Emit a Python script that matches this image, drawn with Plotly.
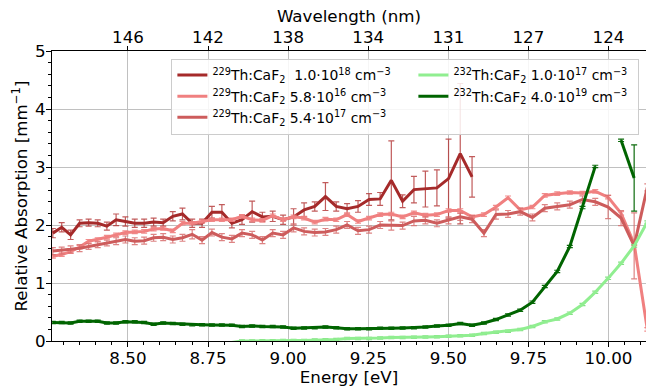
import plotly.graph_objects as go

# Photon energies (eV) of the measurement grid
energy = [8.2656, 8.2933, 8.3211, 8.3491, 8.3773, 8.4057, 8.4343, 8.4631, 8.4921, 8.5213,
          8.5506, 8.5802, 8.6100, 8.6400, 8.6702, 8.7006, 8.7313, 8.7621, 8.7932, 8.8245,
          8.8560, 8.8877, 8.9197, 8.9519, 8.9843, 9.0170, 9.0499, 9.0831, 9.1165, 9.1501,
          9.1840, 9.2182, 9.2526, 9.2872, 9.3221, 9.3573, 9.3927, 9.4284, 9.4644, 9.5007,
          9.5372, 9.5741, 9.6112, 9.6486, 9.6863, 9.7243, 9.7625, 9.8011, 9.8400, 9.8792,
          9.9187, 9.9586, 9.9987, 10.0392, 10.0800, 10.1211]

N = None
th229_1e18 = [1.86, 1.96, 1.83, 2.03, 2.04, 2.03, 1.98, 2.09, 2.06, 2.03,
              2.03, 2.05, 2.04, 2.15, 2.19, 2.03, 2.03, 2.22, 2.22, 2.03,
              2.09, 2.23, 2.14, 2.15, 2.09, 2.14, 2.26, 2.32, 2.49, 2.32,
              2.28, 2.32, 2.44, 2.45, 2.77, 2.41, 2.61, 2.62, 2.64, 2.80,
              3.23, 2.83, N, N, N, N, N, N, N, N,
              N, N, N, N, N, N]
th229_1e18_err = [0.08, 0.08, 0.08, 0.06, 0.06, 0.06, 0.07, 0.10, 0.08, 0.07,
                  0.07, 0.07, 0.06, 0.08, 0.10, 0.07, 0.07, 0.10, 0.13, 0.08,
                  0.08, 0.18, 0.08, 0.09, 0.08, 0.14, 0.12, 0.08, 0.24, 0.08,
                  0.09, 0.10, 0.10, 0.11, 0.68, 0.11, 0.23, 0.31, 0.31, 0.68,
                  1.21, 0.35, N, N, N, N, N, N, N, N,
                  N, N, N, N, N, N]

th229_58e16 = [1.46, 1.49, 1.54, 1.62, 1.72, 1.75, 1.79, 1.83, 1.87, 1.88,
               1.89, 1.93, 1.94, 1.90, 2.03, 2.03, 2.06, 2.09, 2.09, 2.09,
               2.15, 2.09, 2.08, 2.16, 2.09, 2.14, 2.12, 2.05, 2.10, 2.09,
               2.18, 2.06, 2.12, 2.18, 2.19, 2.14, 2.21, 2.17, 2.18, 2.25,
               2.25, 2.14, 2.18, 2.31, 2.47, 2.26, 2.31, 2.51, 2.54, 2.56,
               2.55, 2.58, 2.48, 2.20, 1.68, 0.20]
th229_58e16_err = [0.03] * 56

th229_54e17 = [1.55, 1.56, 1.58, 1.60, 1.63, 1.66, 1.69, 1.72, 1.75, 1.72,
               1.73, 1.78, 1.79, 1.75, 1.78, 1.84, 1.74, 1.87, 1.79, 1.76,
               1.86, 1.83, 1.74, 1.86, 1.83, 1.95, 1.89, 1.87, 1.88, 1.92,
               2.00, 1.90, 1.92, 2.00, 1.99, 1.99, 2.07, 2.08, 2.03, 2.08,
               2.14, 2.10, 1.86, 2.18, 2.19, 2.23, 2.13, 2.29, 2.32, 2.35,
               2.44, 2.40, 2.31, 2.12, 1.64, 2.65]
th229_54e17_err = [0.06, 0.06, 0.06, 0.06, 0.05, 0.05, 0.05, 0.06, 0.06, 0.06,
                   0.06, 0.06, 0.06, 0.06, 0.06, 0.08, 0.06, 0.06, 0.06, 0.06,
                   0.06, 0.06, 0.06, 0.06, 0.06, 0.07, 0.06, 0.06, 0.06, 0.06,
                   0.06, 0.06, 0.06, 0.06, 0.08, 0.06, 0.08, 0.06, 0.06, 0.06,
                   0.06, 0.06, 0.06, 0.08, 0.06, 0.06, 0.06, 0.06, 0.06, 0.06,
                   0.06, 0.06, 0.20, 0.13, 0.57, 0.06]

th232_1e17 = [N, N, N, N, N, N, N, N, N, N,
              N, N, N, N, N, N, N, N, -0.05, -0.03,
              0.00, 0.00, 0.005, 0.005, 0.01, 0.01, 0.01, 0.015, 0.02, 0.025,
              0.045, 0.045, 0.045, 0.05, 0.06, 0.06, 0.065, 0.07, 0.075, 0.08,
              0.09, 0.10, 0.13, 0.15, 0.17, 0.20, 0.25, 0.33, 0.38, 0.48,
              0.63, 0.84, 1.08, 1.34, 1.64, 2.05]
th232_1e17_err = [0.02] * 56

th232_4e19 = [0.32, 0.32, 0.31, 0.34, 0.34, 0.34, 0.31, 0.31, 0.33, 0.33,
              0.32, 0.29, 0.31, 0.30, 0.29, 0.28, 0.28, 0.276, 0.276, 0.27,
              0.25, 0.26, 0.25, 0.25, 0.24, 0.22, 0.225, 0.23, 0.24, 0.23,
              0.21, 0.21, 0.21, 0.22, 0.22, 0.225, 0.23, 0.24, 0.26, 0.27,
              0.30, 0.27, 0.31, 0.37, 0.45, 0.53, 0.67, 0.94, 1.20, 1.63,
              2.30, 3.01, N, 3.46, 2.81, N]
th232_4e19_err = [0.02] * 54 + [0.57, 0.02]

x_ticks = [8.50, 8.75, 9.00, 9.25, 9.50, 9.75, 10.00]
wavelength_labels = ["146", "142", "138", "134", "131", "127", "124"]

series = [
    ("<sup>229</sup>Th:CaF<sub>2</sub>\u00a0 1.0·10<sup>18</sup> cm<sup>−3</sup>",
     th229_1e18, th229_1e18_err, "#a52a2a", "rgba(178,50,50,0.8)", 1, 196),
    ("<sup>229</sup>Th:CaF<sub>2</sub> 5.8·10<sup>16</sup> cm<sup>−3</sup>",
     th229_58e16, th229_58e16_err, "#f08080", "rgba(240,128,128,0.9)", 3, 196),
    ("<sup>229</sup>Th:CaF<sub>2</sub> 5.4·10<sup>17</sup> cm<sup>−3</sup>",
     th229_54e17, th229_54e17_err, "#cd5c5c", "rgba(215,110,110,0.85)", 5, 196),
    ("<sup>232</sup>Th:CaF<sub>2</sub> 1.0·10<sup>17</sup> cm<sup>−3</sup>",
     th232_1e17, th232_1e17_err, "#90ee90", "rgba(120,220,120,0.9)", 2, 180),
    ("<sup>232</sup>Th:CaF<sub>2</sub> 4.0·10<sup>19</sup> cm<sup>−3</sup>",
     th232_4e19, th232_4e19_err, "#006400", "rgba(0,100,0,0.95)", 4, 180),
]

fig = go.Figure()
for name, y, err, color, ecolor, rank, lw in series:
    fig.add_trace(go.Scatter(
        x=energy, y=y, mode="lines", name=name,
        line=dict(color=color, width=3),
        error_y=dict(type="data", array=err, color=ecolor, thickness=1.2, width=3),
        legendrank=rank, legendwidth=lw, connectgaps=False,
    ))

# invisible trace to activate top axis
fig.add_trace(go.Scatter(x=[energy[0]], y=[None], xaxis="x2", showlegend=False,
                         hoverinfo="skip"))

FONT = "DejaVu Sans"
xr = [8.263, 10.117]
fig.update_layout(
    width=646, height=387,
    margin=dict(l=52, r=0, t=51, b=46, autoexpand=False),
    paper_bgcolor="white", plot_bgcolor="white",
    font=dict(family=FONT, size=16.7, color="black"),
    xaxis=dict(
        range=xr, tickvals=x_ticks, tickformat=".2f", automargin=False,
        ticks="outside", ticklen=5, tickwidth=1, tickcolor="black",
        ticklabelstandoff=-3,
        showline=True, linecolor="black", linewidth=1,
        showgrid=True, gridcolor="#c0c0c0", gridwidth=1,
        zeroline=False,
        minor=dict(dtick=0.05, tick0=8.5, ticks="outside", ticklen=3,
                   tickcolor="black", showgrid=False),
        title=dict(text="Energy [eV]", standoff=2, font=dict(size=16.7)),
        tickfont=dict(size=16.7),
    ),
    xaxis2=dict(
        range=xr, overlaying="x", side="top", anchor="y", automargin=False,
        tickvals=x_ticks, ticktext=wavelength_labels,
        ticks="outside", ticklen=4, tickcolor="black",
        ticklabelstandoff=-4,
        showline=True, linecolor="black", linewidth=1,
        showgrid=False, zeroline=False,
        title=dict(text="Wavelength (nm)", standoff=0, font=dict(size=16.7)),
        tickfont=dict(size=16.7),
    ),
    yaxis=dict(
        range=[0, 5], dtick=1, tick0=0, automargin=False,
        ticks="outside", ticklen=5, tickcolor="black",
        ticklabelstandoff=-3,
        showline=True, linecolor="black", linewidth=1,
        showgrid=True, gridcolor="#c0c0c0", gridwidth=1,
        zeroline=False,
        minor=dict(dtick=0.2, ticks="outside", ticklen=3, tickcolor="black",
                   showgrid=False),
        title=dict(text="Relative Absorption [mm<sup>−1</sup>]", standoff=3,
                   font=dict(size=16.7)),
        tickfont=dict(size=16.7),
    ),
    legend=dict(
        orientation="h", x=0.201, y=0.974, xanchor="left", yanchor="top",
        xref="paper", yref="paper",
        bgcolor="rgba(255,255,255,0.85)", bordercolor="#cccccc", borderwidth=1,
        font=dict(family=FONT, size=13.9),
        traceorder="normal",
    ),
    showlegend=True,
)

fig.write_html("out.html", config={"displayModeBar": False},
               post_script="document.body.style.margin='0';document.body.style.overflow='hidden';")
